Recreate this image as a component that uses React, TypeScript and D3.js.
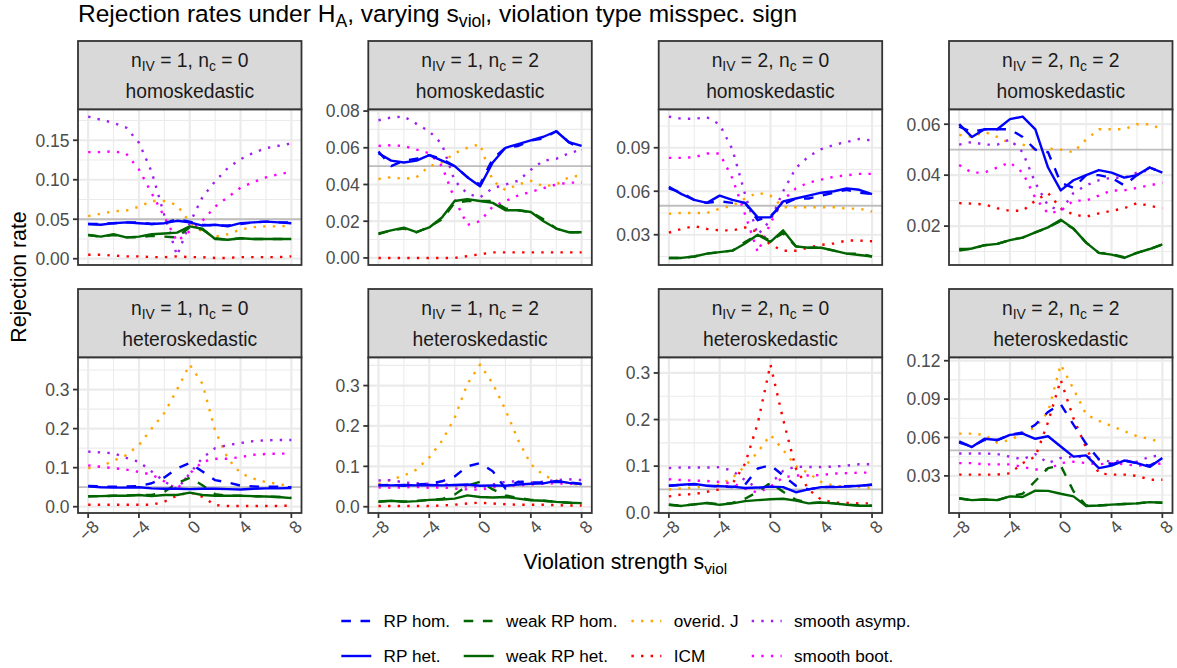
import React from "react";
import * as d3 from "d3";

// ---------- data ----------
const xValues = [-8, -7, -6, -5, -4, -3, -2, -1, 0, 1, 2, 3, 4, 5, 6, 7, 8];
const xTickValues = [-8, -4, 0, 4, 8];
const xTickLabels = ["\u22128", "\u22124", "0", "4", "8"];
const xMinorValues = [-6, -2, 2, 6];

const seriesKeys = ["rpHom", "rpHet", "weakHom", "weakHet", "overidJ", "icm", "smAsymp", "smBoot"];
const seriesLabels = ["RP hom.", "RP het.", "weak RP hom.", "weak RP het.", "overid. J", "ICM", "smooth asymp.", "smooth boot."];
const seriesColors = ["#0000FF", "#0000FF", "#006400", "#006400", "#FFA500", "#FF0000", "#A020F0", "#FF00FF"];
const seriesTypes = ["dashed", "solid", "dashed", "solid", "dotted", "dotted", "dotted", "dotted"];
const drawOrder = [4, 5, 6, 7, 2, 3, 0, 1];

const panelNiv = [1, 1, 2, 2, 1, 1, 2, 2];
const panelNc = [0, 2, 0, 2, 0, 2, 0, 2];
const panelVar = ["homoskedastic", "homoskedastic", "homoskedastic", "homoskedastic",
  "heteroskedastic", "heteroskedastic", "heteroskedastic", "heteroskedastic"];

const p1Ticks = ["0.00", "0.05", "0.10", "0.15"];
const p2Ticks = ["0.00", "0.02", "0.04", "0.06", "0.08"];
const p3Ticks = ["0.03", "0.06", "0.09"];
const p4Ticks = ["0.02", "0.04", "0.06"];
const p5Ticks = ["0.0", "0.1", "0.2", "0.3"];
const p6Ticks = ["0.0", "0.1", "0.2", "0.3"];
const p7Ticks = ["0.0", "0.1", "0.2", "0.3"];
const p8Ticks = ["0.03", "0.06", "0.09", "0.12"];

// Panel 1: n_IV=1, n_c=0, homoskedastic
const p1RpHom = [0.044, 0.044, 0.045, 0.046, 0.046, 0.044, 0.045, 0.050, 0.047, 0.043, 0.042, 0.042, 0.044, 0.046, 0.047, 0.046, 0.046];
const p1RpHet = [0.044, 0.043, 0.045, 0.046, 0.045, 0.044, 0.045, 0.048, 0.046, 0.042, 0.043, 0.041, 0.045, 0.046, 0.047, 0.046, 0.045];
const p1WeakHom = [0.030, 0.028, 0.030, 0.027, 0.027, 0.029, 0.028, 0.027, 0.040, 0.037, 0.026, 0.024, 0.026, 0.025, 0.025, 0.025, 0.025];
const p1WeakHet = [0.030, 0.028, 0.031, 0.027, 0.028, 0.031, 0.032, 0.033, 0.041, 0.038, 0.025, 0.024, 0.026, 0.025, 0.025, 0.025, 0.025];
const p1OveridJ = [0.054, 0.057, 0.060, 0.061, 0.066, 0.073, 0.073, 0.068, 0.046, 0.034, 0.028, 0.031, 0.037, 0.040, 0.041, 0.041, 0.042];
const p1Icm = [0.005, 0.005, 0.004, 0.003, 0.003, 0.002, 0.002, 0.003, 0.002, 0.002, 0.001, 0.001, 0.002, 0.002, 0.002, 0.002, 0.003];
const p1SmAsymp = [0.180, 0.176, 0.172, 0.166, 0.147, 0.110, 0.055, 0.004, 0.045, 0.078, 0.098, 0.115, 0.126, 0.134, 0.140, 0.143, 0.146];
const p1SmBoot = [0.135, 0.135, 0.136, 0.133, 0.113, 0.083, 0.053, 0.022, 0.035, 0.048, 0.066, 0.078, 0.090, 0.097, 0.103, 0.107, 0.110];

// Panel 2: n_IV=1, n_c=2, homoskedastic
const p2RpHom = [0.058, 0.050, 0.053, 0.054, 0.056, 0.054, 0.050, 0.044, 0.040, 0.054, 0.060, 0.061, 0.064, 0.065, 0.069, 0.063, 0.059];
const p2RpHet = [0.057, 0.053, 0.052, 0.053, 0.056, 0.053, 0.050, 0.044, 0.039, 0.052, 0.060, 0.062, 0.064, 0.066, 0.069, 0.063, 0.061];
const p2WeakHom = [0.013, 0.015, 0.016, 0.014, 0.017, 0.021, 0.030, 0.031, 0.031, 0.031, 0.027, 0.026, 0.025, 0.021, 0.016, 0.014, 0.014];
const p2WeakHet = [0.0133, 0.015, 0.0165, 0.014, 0.0166, 0.022, 0.031, 0.032, 0.031, 0.030, 0.026, 0.026, 0.025, 0.020, 0.016, 0.014, 0.014];
const p2OveridJ = [0.043, 0.044, 0.043, 0.044, 0.050, 0.052, 0.057, 0.060, 0.062, 0.042, 0.037, 0.040, 0.042, 0.039, 0.040, 0.044, 0.045];
const p2Icm = [0.000, 0.000, 0.000, 0.000, 0.000, 0.000, 0.000, 0.001, 0.002, 0.003, 0.003, 0.003, 0.003, 0.003, 0.003, 0.003, 0.003];
const p2SmAsymp = [0.075, 0.0765, 0.077, 0.073, 0.069, 0.062, 0.042, 0.035, 0.033, 0.038, 0.040, 0.042, 0.048, 0.053, 0.054, 0.057, 0.059];
const p2SmBoot = [0.061, 0.0614, 0.061, 0.059, 0.057, 0.050, 0.032, 0.018, 0.020, 0.028, 0.031, 0.034, 0.036, 0.038, 0.040, 0.041, 0.041];

// Panel 3: n_IV=2, n_c=0, homoskedastic
const p3RpHom = [0.062, 0.059, 0.054, 0.052, 0.053, 0.052, 0.052, 0.040, 0.043, 0.051, 0.055, 0.055, 0.057, 0.059, 0.061, 0.059, 0.058];
const p3RpHet = [0.063, 0.058, 0.054, 0.052, 0.057, 0.054, 0.052, 0.042, 0.042, 0.053, 0.055, 0.057, 0.059, 0.060, 0.062, 0.061, 0.058];
const p3WeakHom = [0.014, 0.014, 0.015, 0.017, 0.018, 0.019, 0.025, 0.030, 0.026, 0.031, 0.022, 0.021, 0.021, 0.019, 0.017, 0.017, 0.015];
const p3WeakHet = [0.014, 0.014, 0.015, 0.017, 0.018, 0.019, 0.024, 0.030, 0.025, 0.033, 0.022, 0.021, 0.021, 0.019, 0.017, 0.016, 0.015];
const p3OveridJ = [0.0445, 0.045, 0.045, 0.045, 0.048, 0.050, 0.055, 0.059, 0.057, 0.049, 0.049, 0.049, 0.049, 0.049, 0.048, 0.048, 0.046];
const p3Icm = [0.0314, 0.034, 0.036, 0.034, 0.033, 0.033, 0.035, 0.032, 0.023, 0.019, 0.019, 0.021, 0.023, 0.024, 0.026, 0.026, 0.0255];
const p3SmAsymp = [0.1115, 0.110, 0.110, 0.111, 0.106, 0.089, 0.058, 0.030, 0.040, 0.060, 0.076, 0.084, 0.089, 0.092, 0.094, 0.096, 0.095];
const p3SmBoot = [0.083, 0.083, 0.0835, 0.086, 0.086, 0.069, 0.044, 0.018, 0.038, 0.054, 0.062, 0.066, 0.068, 0.070, 0.071, 0.072, 0.072];

// Panel 4: n_IV=2, n_c=2, homoskedastic
const p4RpHom = [0.059, 0.057, 0.058, 0.058, 0.058, 0.055, 0.050, 0.049, 0.037, 0.035, 0.040, 0.040, 0.039, 0.036, 0.040, 0.043, 0.041];
const p4RpHet = [0.060, 0.055, 0.058, 0.058, 0.062, 0.063, 0.058, 0.043, 0.034, 0.038, 0.040, 0.042, 0.041, 0.039, 0.040, 0.043, 0.041];
const p4WeakHom = [0.011, 0.011, 0.0125, 0.013, 0.0145, 0.0155, 0.0175, 0.0195, 0.022, 0.019, 0.0135, 0.0095, 0.009, 0.0078, 0.0095, 0.011, 0.0128];
const p4WeakHet = [0.0104, 0.0112, 0.0125, 0.013, 0.0145, 0.0155, 0.0175, 0.0195, 0.0225, 0.019, 0.0135, 0.0095, 0.0088, 0.0075, 0.0095, 0.011, 0.0128];
const p4OveridJ = [0.0558, 0.055, 0.057, 0.055, 0.0525, 0.052, 0.050, 0.0505, 0.050, 0.049, 0.054, 0.058, 0.058, 0.058, 0.060, 0.060, 0.058];
const p4Icm = [0.029, 0.0288, 0.0285, 0.027, 0.026, 0.026, 0.030, 0.033, 0.027, 0.0245, 0.0237, 0.025, 0.026, 0.027, 0.029, 0.028, 0.027];
const p4SmAsymp = [0.052, 0.053, 0.052, 0.052, 0.054, 0.049, 0.037, 0.028, 0.026, 0.033, 0.036, 0.038, 0.039, 0.039, 0.041, 0.042, 0.043];
const p4SmBoot = [0.044, 0.041, 0.041, 0.043, 0.045, 0.041, 0.031, 0.025, 0.026, 0.030, 0.030, 0.032, 0.034, 0.034, 0.035, 0.036, 0.037];

// Panel 5: n_IV=1, n_c=0, heteroskedastic
const p5RpHom = [0.053, 0.052, 0.051, 0.052, 0.053, 0.060, 0.075, 0.098, 0.112, 0.090, 0.068, 0.062, 0.054, 0.052, 0.051, 0.051, 0.050];
const p5RpHet = [0.052, 0.050, 0.049, 0.049, 0.050, 0.047, 0.046, 0.046, 0.045, 0.046, 0.046, 0.045, 0.044, 0.046, 0.047, 0.047, 0.048];
const p5WeakHom = [0.027, 0.027, 0.028, 0.029, 0.030, 0.030, 0.038, 0.060, 0.074, 0.055, 0.032, 0.028, 0.028, 0.027, 0.026, 0.025, 0.023];
const p5WeakHet = [0.026, 0.027, 0.028, 0.028, 0.030, 0.027, 0.030, 0.030, 0.036, 0.030, 0.028, 0.028, 0.028, 0.027, 0.026, 0.025, 0.022];
const p5OveridJ = [0.099, 0.103, 0.118, 0.132, 0.158, 0.200, 0.240, 0.300, 0.364, 0.315, 0.195, 0.123, 0.086, 0.072, 0.063, 0.058, 0.052];
const p5Icm = [0.005, 0.005, 0.005, 0.005, 0.005, 0.005, 0.013, 0.028, 0.037, 0.025, 0.004, 0.002, 0.002, 0.002, 0.002, 0.002, 0.003];
const p5SmAsymp = [0.141, 0.139, 0.137, 0.125, 0.115, 0.090, 0.065, 0.045, 0.085, 0.125, 0.150, 0.158, 0.163, 0.168, 0.170, 0.171, 0.171];
const p5SmBoot = [0.106, 0.102, 0.099, 0.095, 0.089, 0.082, 0.065, 0.045, 0.085, 0.115, 0.123, 0.123, 0.127, 0.133, 0.135, 0.136, 0.136];

// Panel 6: n_IV=1, n_c=2, heteroskedastic
const p6RpHom = [0.053, 0.054, 0.052, 0.055, 0.057, 0.063, 0.075, 0.100, 0.108, 0.088, 0.045, 0.062, 0.060, 0.060, 0.062, 0.060, 0.057];
const p6RpHet = [0.054, 0.053, 0.054, 0.053, 0.054, 0.053, 0.054, 0.055, 0.052, 0.053, 0.052, 0.055, 0.057, 0.058, 0.064, 0.059, 0.056];
const p6WeakHom = [0.013, 0.015, 0.013, 0.014, 0.017, 0.019, 0.030, 0.052, 0.062, 0.043, 0.028, 0.022, 0.017, 0.015, 0.012, 0.010, 0.009];
const p6WeakHet = [0.012, 0.015, 0.012, 0.014, 0.017, 0.018, 0.020, 0.028, 0.024, 0.023, 0.024, 0.020, 0.016, 0.015, 0.012, 0.010, 0.009];
const p6OveridJ = [0.056, 0.067, 0.077, 0.092, 0.122, 0.163, 0.220, 0.304, 0.352, 0.305, 0.240, 0.165, 0.105, 0.078, 0.065, 0.058, 0.054];
const p6Icm = [0.002, 0.002, 0.002, 0.002, 0.002, 0.003, 0.005, 0.008, 0.010, 0.008, 0.006, 0.005, 0.005, 0.005, 0.004, 0.003, 0.003];
const p6SmAsymp = [0.065, 0.066, 0.060, 0.058, 0.057, 0.056, 0.053, 0.050, 0.048, 0.055, 0.062, 0.063, 0.060, 0.062, 0.066, 0.068, 0.066];
const p6SmBoot = [0.048, 0.047, 0.048, 0.049, 0.047, 0.048, 0.045, 0.043, 0.042, 0.048, 0.052, 0.053, 0.055, 0.057, 0.058, 0.057, 0.056];

// Panel 7: n_IV=2, n_c=0, heteroskedastic
const p7RpHom = [0.058, 0.060, 0.061, 0.058, 0.056, 0.055, 0.060, 0.095, 0.102, 0.080, 0.058, 0.050, 0.055, 0.056, 0.057, 0.058, 0.060];
const p7RpHet = [0.058, 0.060, 0.062, 0.058, 0.057, 0.056, 0.053, 0.054, 0.056, 0.055, 0.044, 0.050, 0.055, 0.055, 0.056, 0.058, 0.060];
const p7WeakHom = [0.017, 0.015, 0.018, 0.021, 0.018, 0.021, 0.030, 0.045, 0.064, 0.045, 0.028, 0.021, 0.022, 0.020, 0.017, 0.016, 0.015];
const p7WeakHet = [0.017, 0.0146, 0.018, 0.021, 0.017, 0.020, 0.025, 0.027, 0.029, 0.030, 0.026, 0.020, 0.022, 0.020, 0.017, 0.015, 0.015];
const p7OveridJ = [0.050, 0.052, 0.054, 0.057, 0.060, 0.075, 0.100, 0.130, 0.167, 0.135, 0.100, 0.085, 0.066, 0.058, 0.056, 0.055, 0.053];
const p7Icm = [0.035, 0.039, 0.040, 0.045, 0.050, 0.062, 0.105, 0.192, 0.318, 0.200, 0.095, 0.050, 0.028, 0.022, 0.021, 0.020, 0.020];
const p7SmAsymp = [0.096, 0.097, 0.097, 0.097, 0.098, 0.090, 0.070, 0.052, 0.062, 0.090, 0.099, 0.098, 0.098, 0.099, 0.101, 0.104, 0.104];
const p7SmBoot = [0.072, 0.070, 0.069, 0.068, 0.066, 0.063, 0.052, 0.043, 0.056, 0.076, 0.080, 0.080, 0.081, 0.084, 0.085, 0.086, 0.086];

// Panel 8: n_IV=2, n_c=2, heteroskedastic
const p8RpHom = [0.056, 0.053, 0.058, 0.058, 0.062, 0.064, 0.070, 0.080, 0.086, 0.070, 0.055, 0.043, 0.039, 0.042, 0.040, 0.038, 0.043];
const p8RpHet = [0.057, 0.0525, 0.059, 0.058, 0.062, 0.063, 0.059, 0.061, 0.053, 0.045, 0.046, 0.036, 0.038, 0.042, 0.040, 0.037, 0.044];
const p8WeakHom = [0.0125, 0.011, 0.0115, 0.011, 0.014, 0.016, 0.026, 0.036, 0.038, 0.018, 0.0068, 0.0068, 0.0075, 0.008, 0.0085, 0.0095, 0.009];
const p8WeakHet = [0.0123, 0.011, 0.0115, 0.011, 0.014, 0.0135, 0.0185, 0.0183, 0.016, 0.014, 0.0065, 0.0068, 0.0075, 0.008, 0.0085, 0.0095, 0.009];
const p8OveridJ = [0.063, 0.063, 0.062, 0.056, 0.058, 0.063, 0.068, 0.080, 0.117, 0.098, 0.078, 0.073, 0.069, 0.065, 0.061, 0.059, 0.056];
const p8Icm = [0.031, 0.031, 0.031, 0.031, 0.032, 0.040, 0.045, 0.072, 0.105, 0.075, 0.052, 0.032, 0.031, 0.031, 0.030, 0.027, 0.027];
const p8SmAsymp = [0.0475, 0.0475, 0.0475, 0.047, 0.045, 0.043, 0.047, 0.040, 0.044, 0.045, 0.045, 0.043, 0.041, 0.042, 0.041, 0.045, 0.046];
const p8SmBoot = [0.040, 0.040, 0.039, 0.039, 0.039, 0.037, 0.035, 0.035, 0.040, 0.041, 0.040, 0.039, 0.040, 0.039, 0.038, 0.038, 0.040];

const nominalLevel = 0.05;

// tables built from the arrays above
const panelSeries = [
  [p1RpHom, p1RpHet, p1WeakHom, p1WeakHet, p1OveridJ, p1Icm, p1SmAsymp, p1SmBoot],
  [p2RpHom, p2RpHet, p2WeakHom, p2WeakHet, p2OveridJ, p2Icm, p2SmAsymp, p2SmBoot],
  [p3RpHom, p3RpHet, p3WeakHom, p3WeakHet, p3OveridJ, p3Icm, p3SmAsymp, p3SmBoot],
  [p4RpHom, p4RpHet, p4WeakHom, p4WeakHet, p4OveridJ, p4Icm, p4SmAsymp, p4SmBoot],
  [p5RpHom, p5RpHet, p5WeakHom, p5WeakHet, p5OveridJ, p5Icm, p5SmAsymp, p5SmBoot],
  [p6RpHom, p6RpHet, p6WeakHom, p6WeakHet, p6OveridJ, p6Icm, p6SmAsymp, p6SmBoot],
  [p7RpHom, p7RpHet, p7WeakHom, p7WeakHet, p7OveridJ, p7Icm, p7SmAsymp, p7SmBoot],
  [p8RpHom, p8RpHet, p8WeakHom, p8WeakHet, p8OveridJ, p8Icm, p8SmAsymp, p8SmBoot],
];
const panelTicks = [p1Ticks, p2Ticks, p3Ticks, p4Ticks, p5Ticks, p6Ticks, p7Ticks, p8Ticks];

// ---------- layout / style ----------
const W = 1177;
const H = 668;
const FONT = '"Liberation Sans", Arial, Helvetica, sans-serif';
const colLeft = [78, 368.3, 658.7, 949];
const panelW = 223.5;
const rowStripTop = [41, 289];
const stripH = 68.5;
const panelH = 155.5;
const LW = 2.4;
const dashFor = (t: string) => (t === "dashed" ? `${LW * 4} ${LW * 4}` : t === "dotted" ? `${LW} ${LW * 3}` : undefined);

const GRID = "#EBEBEB";
const BORDER = "#333333";
const AXIS_TEXT = "#4D4D4D";
const TICK_FS = 17.5;
const STRIP_FS = 19.3;

function Panel({ idx }: { idx: number }) {
  const col = idx % 4;
  const row = Math.floor(idx / 4);
  const left = colLeft[col];
  const stripTop = rowStripTop[row];
  const top = stripTop + stripH;
  const bottom = top + panelH;
  const right = left + panelW;
  const series = panelSeries[idx];
  const all = series.flat();
  const [mn, mx] = d3.extent(all) as [number, number];
  const pad = (mx - mn) * 0.05;
  const x = d3.scaleLinear().domain([-8 - 0.8, 8 + 0.8]).range([left, right]);
  const y = d3.scaleLinear().domain([mn - pad, mx + pad]).range([bottom, top]);
  const ticks = panelTicks[idx];
  const tickVals = ticks.map(Number);
  const step = tickVals[1] - tickVals[0];
  const minor: number[] = [];
  const first = tickVals[0] - step / 2;
  for (let k = 0; k <= tickVals.length; k++) {
    const v = first + k * step;
    const [d0, d1] = y.domain();
    if (v > d0 && v < d1) minor.push(v);
  }
  const line = d3.line<number>().x((_, i) => x(xValues[i])).y((d) => y(d));
  const cx = (left + right) / 2;

  return (
    <g>
      {/* strip */}
      <rect x={left} y={stripTop} width={panelW} height={stripH} fill="#D9D9D9" stroke={BORDER} strokeWidth={1.8} />
      <text x={cx} y={stripTop + 25.5} textAnchor="middle" fontSize={STRIP_FS} fill="#1A1A1A">
        <tspan>n</tspan>
        <tspan fontSize={STRIP_FS * 0.72} dy={4.5}>IV</tspan>
        <tspan dy={-4.5}>{` = ${panelNiv[idx]}, n`}</tspan>
        <tspan fontSize={STRIP_FS * 0.72} dy={4.5}>c</tspan>
        <tspan dy={-4.5}>{` = ${panelNc[idx]}`}</tspan>
      </text>
      <text x={cx} y={stripTop + 57} textAnchor="middle" fontSize={STRIP_FS} fill="#1A1A1A">
        {panelVar[idx]}
      </text>
      {/* panel background + grid */}
      <rect x={left} y={top} width={panelW} height={panelH} fill="#FFFFFF" />
      {minor.map((v, i) => (
        <line key={"ym" + i} x1={left} x2={right} y1={y(v)} y2={y(v)} stroke={GRID} strokeWidth={1.1} />
      ))}
      {xMinorValues.map((v, i) => (
        <line key={"xm" + i} x1={x(v)} x2={x(v)} y1={top} y2={bottom} stroke={GRID} strokeWidth={1.1} />
      ))}
      {tickVals.map((v, i) => (
        <line key={"yM" + i} x1={left} x2={right} y1={y(v)} y2={y(v)} stroke={GRID} strokeWidth={2.2} />
      ))}
      {xTickValues.map((v, i) => (
        <line key={"xM" + i} x1={x(v)} x2={x(v)} y1={top} y2={bottom} stroke={GRID} strokeWidth={2.2} />
      ))}
      {/* reference line */}
      <line x1={left} x2={right} y1={y(nominalLevel)} y2={y(nominalLevel)} stroke="#BEBEBE" strokeWidth={1.8} />
      {/* series */}
      {drawOrder.map((s) => (
        <path
          key={"s" + s}
          d={line(series[s]) || ""}
          fill="none"
          stroke={seriesColors[s]}
          strokeWidth={LW}
          strokeDasharray={dashFor(seriesTypes[s])}
          strokeLinejoin="round"
        />
      ))}
      {/* border */}
      <rect x={left} y={top} width={panelW} height={panelH} fill="none" stroke={BORDER} strokeWidth={1.8} />
      {/* y axis */}
      {tickVals.map((v, i) => (
        <g key={"yt" + i}>
          <line x1={left - 5} x2={left} y1={y(v)} y2={y(v)} stroke={BORDER} strokeWidth={1.8} />
          <text x={left - 8.5} y={y(v)} dy="0.36em" textAnchor="end" fontSize={TICK_FS} fill={AXIS_TEXT}>
            {ticks[i]}
          </text>
        </g>
      ))}
      {/* x axis (bottom row only) */}
      {row === 1 &&
        xTickValues.map((v, i) => (
          <g key={"xt" + i}>
            <line x1={x(v)} x2={x(v)} y1={bottom} y2={bottom + 5} stroke={BORDER} strokeWidth={1.8} />
            <text
              transform={`translate(${x(v) + 3},${bottom + 6}) rotate(-45)`}
              dy="0.72em"
              textAnchor="end"
              fontSize={TICK_FS}
              fill={AXIS_TEXT}
            >
              {xTickLabels[i]}
            </text>
          </g>
        ))}
    </g>
  );
}

const legendColX = [339.3, 461.7, 629.4, 749.7];
const legendRowY = [621, 656];
const legendKeyW = 34;

function Legend() {
  return (
    <g>
      {seriesKeys.map((k, s) => {
        const c = Math.floor(s / 2);
        const r = s % 2;
        const x0 = legendColX[c];
        const yy = legendRowY[r];
        return (
          <g key={k}>
            <line
              x1={x0 + 2}
              x2={x0 + legendKeyW - 2}
              y1={yy}
              y2={yy}
              stroke={seriesColors[s]}
              strokeWidth={LW}
              strokeDasharray={dashFor(seriesTypes[s])}
            />
            <text x={x0 + 44.3} y={yy} dy="0.36em" fontSize={17.2} fill="#000">
              {seriesLabels[s]}
            </text>
          </g>
        );
      })}
    </g>
  );
}

export default function App() {
  const panels = d3.range(8);
  return (
    <svg
      width={W}
      height={H}
      viewBox={`0 0 ${W} ${H}`}
      style={{ position: "absolute", left: 0, top: 0, background: "#fff" }}
      fontFamily={FONT}
    >
      <rect width={W} height={H} fill="#fff" />
      <text x={78} y={22} fontSize={24.5} fill="#000">
        <tspan>Rejection rates under H</tspan>
        <tspan fontSize={24.5 * 0.72} dy={5}>A</tspan>
        <tspan dy={-5}>, varying s</tspan>
        <tspan fontSize={24.5 * 0.72} dy={5}>viol</tspan>
        <tspan dy={-5}>, violation type misspec. sign</tspan>
      </text>
      {panels.map((i) => (
        <Panel key={i} idx={i} />
      ))}
      <text transform="translate(18,277) rotate(-90)" dy="0.36em" textAnchor="middle" fontSize={21.3} fill="#000">
        Rejection rate
      </text>
      <text x={625.3} y={569} textAnchor="middle" fontSize={21.3} fill="#000">
        <tspan>Violation strength s</tspan>
        <tspan fontSize={21.3 * 0.72} dy={4.5}>viol</tspan>
      </text>
      <Legend />
    </svg>
  );
}
